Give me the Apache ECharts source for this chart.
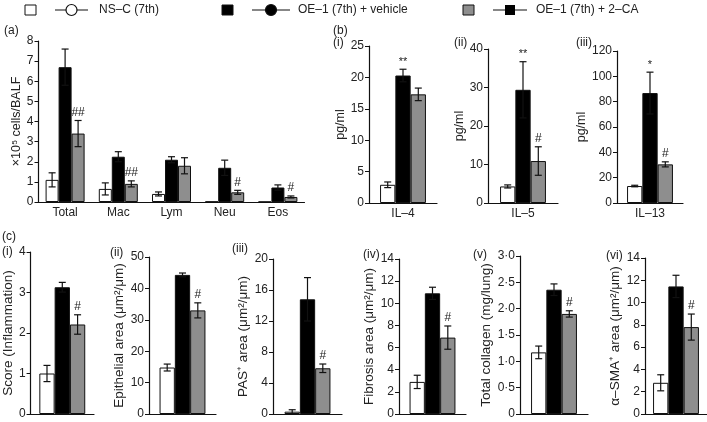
<!DOCTYPE html>
<html>
<head>
<meta charset="utf-8">
<script src="https://cdn.jsdelivr.net/npm/echarts@6/dist/echarts.min.js"></script>
<style>
html,body{margin:0;padding:0;background:#fff;}
#chart{width:707px;height:422px;}
</style>
</head>
<body>
<div id="chart"></div>
<script>
// ---------- data ----------
const groupNames = ['NS–C (7th)', 'OE–1 (7th) + vehicle', 'OE–1 (7th) + 2–CA'];

// (a) BALF cells
const cellCategories = ['Total', 'Mac', 'Lym', 'Neu', 'Eos'];
const cellNSC = [1.1, 0.65, 0.4, 0.02, 0.01];
const cellNSCErr = [0.35, 0.3, 0.1, 0, 0];
const cellVehicle = [6.7, 2.25, 2.1, 1.7, 0.72];
const cellVehicleErr = [0.9, 0.25, 0.15, 0.38, 0.13];
const cell2CA = [3.4, 0.9, 1.8, 0.48, 0.25];
const cell2CAErr = [0.65, 0.15, 0.4, 0.1, 0.05];
const cell2CAMarks = ['##', '##', '', '#', '#'];

// (b) cytokines
const il4Mean = [2.9, 20.3, 17.3];
const il4Err = [0.45, 1.0, 1.0];
const il4Marks = ['', '**', ''];
const il5Mean = [4.3, 29.4, 10.9];
const il5Err = [0.4, 7.3, 3.7];
const il5Marks = ['', '**', '#'];
const il13Mean = [13.4, 86.8, 30.5];
const il13Err = [0.6, 16.5, 2.0];
const il13Marks = ['', '*', '#'];

// (c) histology
const inflamMean = [1.0, 3.13, 2.21];
const inflamErr = [0.2, 0.12, 0.24];
const epiMean = [14.8, 44.3, 33.0];
const epiErr = [1.1, 0.6, 2.4];
const pasMean = [0.3, 14.8, 5.9];
const pasErr = [0.25, 2.8, 0.55];
const fibMean = [2.9, 10.9, 6.9];
const fibErr = [0.6, 0.55, 1.05];
const collMean = [1.17, 2.36, 1.9];
const collErr = [0.12, 0.11, 0.06];
const smaMean = [2.8, 11.45, 7.8];
const smaErr = [0.72, 1.0, 1.17];
const histMarks = ['', '', '#'];

// ---------- styling ----------
const FONT = 'Liberation Sans, Arial, sans-serif';
const TXT = '#222';
const fills = ['#ffffff', '#000000', '#8e8e8e'];

const panels = [
  {grid:[38.5,41,266,161], cats:cellCategories,
   means:[cellNSC,cellVehicle,cell2CA], errs:[cellNSCErr,cellVehicleErr,cell2CAErr],
   marks:[['','','','',''],['','','','',''],cell2CAMarks],
   max:8, interval:1, name:'×10⁵ cells/BALF', gap:15, barW:13, showCat:true, nameSize:12.5},
  {grid:[369,46,68,157], cats:['IL–4'], means:[[il4Mean[0]],[il4Mean[1]],[il4Mean[2]]],
   errs:[[il4Err[0]],[il4Err[1]],[il4Err[2]]], marks:[[il4Marks[0]],[il4Marks[1]],[il4Marks[2]]],
   max:25, interval:5, name:'pg/ml', gap:20, barW:15.3, showCat:true, nameSize:12.5},
  {grid:[488,49,70,154], cats:['IL–5'], means:[[il5Mean[0]],[il5Mean[1]],[il5Mean[2]]],
   errs:[[il5Err[0]],[il5Err[1]],[il5Err[2]]], marks:[[il5Marks[0]],[il5Marks[1]],[il5Marks[2]]],
   max:40, interval:10, name:'pg/ml', gap:21, barW:15.3, showCat:true, nameSize:12.5},
  {grid:[617,51,66,152], cats:['IL–13'], means:[[il13Mean[0]],[il13Mean[1]],[il13Mean[2]]],
   errs:[[il13Err[0]],[il13Err[1]],[il13Err[2]]], marks:[[il13Marks[0]],[il13Marks[1]],[il13Marks[2]]],
   max:120, interval:20, name:'pg/ml', gap:23, barW:15.3, showCat:true, nameSize:12.5}
];

function histPanel(grid, mean, err, max, interval, name, gap, fmt) {
  return {grid:grid, cats:[''], means:[[mean[0]],[mean[1]],[mean[2]]],
    errs:[[err[0]],[err[1]],[err[2]]], marks:[[histMarks[0]],[histMarks[1]],[histMarks[2]]],
    max:max, interval:interval, name:name, gap:gap, barW:15.3, showCat:false, fmt:fmt, nameSize:13.5};
}
panels.push(histPanel([30,252,64,162], inflamMean, inflamErr, 4, 1, 'Score (Inflammation)', 14));
panels.push(histPanel([149,257,67,157], epiMean, epiErr, 50, 10, 'Epithelial area (μm²/μm)', 18));
panels.push(histPanel([273,259,69,155], pasMean, pasErr, 20, 4, 'PAS⁺ area (μm²/μm)', 18));
panels.push(histPanel([399,259,67,155], fibMean, fibErr, 14, 2, 'Fibrosis area (μm²/μm)', 23));
panels.push(histPanel([520,256,68,158], collMean, collErr, 3, 0.5, 'Total collagen (mg/lung)', 24,
  v => v === 0 ? '0' : v.toFixed(1).replace('.', '·')));
panels.push(histPanel([645,258,62,156], smaMean, smaErr, 14, 2, 'α–SMA⁺ area (μm²/μm)', 18));

const grids = [], xAxes = [], yAxes = [], series = [];

panels.forEach((p, idx) => {
  grids.push({left:p.grid[0], top:p.grid[1], width:p.grid[2], height:p.grid[3], containLabel:false});
  xAxes.push({type:'category', gridIndex:idx, data:p.cats,
    axisLine:{show:true, lineStyle:{color:'#111', width:1.2}},
    axisTick:{show:false},
    axisLabel:{show:p.showCat, color:TXT, fontFamily:FONT, fontSize:12, margin:5}});
  yAxes.push({type:'value', gridIndex:idx, min:0, max:p.max, interval:p.interval,
    name:p.name, nameLocation:'middle', nameGap:p.gap,
    nameTextStyle:{color:TXT, fontFamily:FONT, fontSize:p.nameSize},
    axisLine:{show:true, lineStyle:{color:'#111', width:1.2}},
    axisTick:{show:true, length:4, lineStyle:{color:'#111', width:1}},
    splitLine:{show:false},
    axisLabel:{color:TXT, fontFamily:FONT, fontSize:12, margin:5, formatter:p.fmt}});
  for (let g = 0; g < 3; g++) {
    series.push({type:'bar', name:groupNames[g], xAxisIndex:idx, yAxisIndex:idx,
      data:p.means[g], barWidth:p.barW, barGap:'0%',
      itemStyle:{color:fills[g], borderColor:'#111', borderWidth:1},
      silent:true, animation:false});
  }
  const rows = [];
  for (let g = 0; g < 3; g++) {
    for (let i = 0; i < p.cats.length; i++) rows.push([i, g, p.means[g][i], p.errs[g][i]]);
  }
  const bw = p.barW;
  series.push({type:'custom', xAxisIndex:idx, yAxisIndex:idx, data:rows, z:5, clip:false,
    encode:{x:0, y:2}, silent:true, animation:false,
    renderItem:function(params, api){
      const i = api.value(0), g = api.value(1), m = api.value(2), e = api.value(3);
      const c = api.coord([i, m]);
      const x = c[0] + (g - 1) * bw;
      const yTop = api.coord([i, m + e])[1];
      const yBot = api.coord([i, Math.max(0, m - e)])[1];
      const children = [];
      const ls = {stroke:'#111', lineWidth:1.2};
      if (e > 0) {
        children.push({type:'line', shape:{x1:x, y1:yTop, x2:x, y2:yBot}, style:ls});
        children.push({type:'line', shape:{x1:x-3.5, y1:yTop, x2:x+3.5, y2:yTop}, style:ls});
        children.push({type:'line', shape:{x1:x-3.5, y1:yBot, x2:x+3.5, y2:yBot}, style:ls});
      }
      const mark = p.marks[g][i];
      if (mark) {
        children.push({type:'text', style:{text:mark, x:x, y:yTop - 2, align:'center',
          verticalAlign:'bottom', fill:TXT, font:(mark.indexOf('*') >= 0 ? '11px ' : '12px ') + FONT}});
      }
      return {type:'group', children:children};
    }});
});

// legend + panel labels
const graphic = [];
const legSquareX = [25, 222, 463];
const legLineX = [[55, 88], [252, 290], [493, 527]];
const legTextX = [99, 298, 536];
const LY = 10;
for (let g = 0; g < 3; g++) {
  graphic.push({type:'rect', shape:{x:legSquareX[g], y:LY-5, width:11, height:10},
    style:{fill:fills[g], stroke:'#111', lineWidth:1}});
  graphic.push({type:'line', shape:{x1:legLineX[g][0], y1:LY, x2:legLineX[g][1], y2:LY},
    style:{stroke:'#111', lineWidth:1.2}});
  const cx = (legLineX[g][0] + legLineX[g][1]) / 2;
  if (g === 2) {
    graphic.push({type:'rect', shape:{x:cx-5, y:LY-5, width:10, height:10}, style:{fill:'#000'}});
  } else {
    graphic.push({type:'circle', shape:{cx:cx, cy:LY, r:5.5},
      style:{fill:g === 0 ? '#fff' : '#000', stroke:'#111', lineWidth:1.2}});
  }
  graphic.push({type:'text', style:{text:groupNames[g], x:legTextX[g], y:LY, verticalAlign:'middle',
    fill:TXT, font:'12px ' + FONT}});
}
const panelLabels = [
  ['(a)', 4, 31], ['(b)', 333, 31], ['(i)', 333, 43], ['(ii)', 454, 43], ['(iii)', 576, 43],
  ['(c)', 2, 237], ['(i)', 2, 252], ['(ii)', 110, 253], ['(iii)', 232, 249], ['(iv)', 363, 255],
  ['(v)', 473, 255], ['(vi)', 606, 256]
];
panelLabels.forEach(l => graphic.push({type:'text',
  style:{text:l[0], x:l[1], y:l[2], verticalAlign:'middle', fill:TXT, font:'12px ' + FONT}}));

const chart = echarts.init(document.getElementById('chart'), null, {renderer:'canvas'});
chart.setOption({
  animation:false,
  backgroundColor:'#ffffff',
  grid:grids, xAxis:xAxes, yAxis:yAxes, series:series, graphic:graphic
});
</script>
</body>
</html>
